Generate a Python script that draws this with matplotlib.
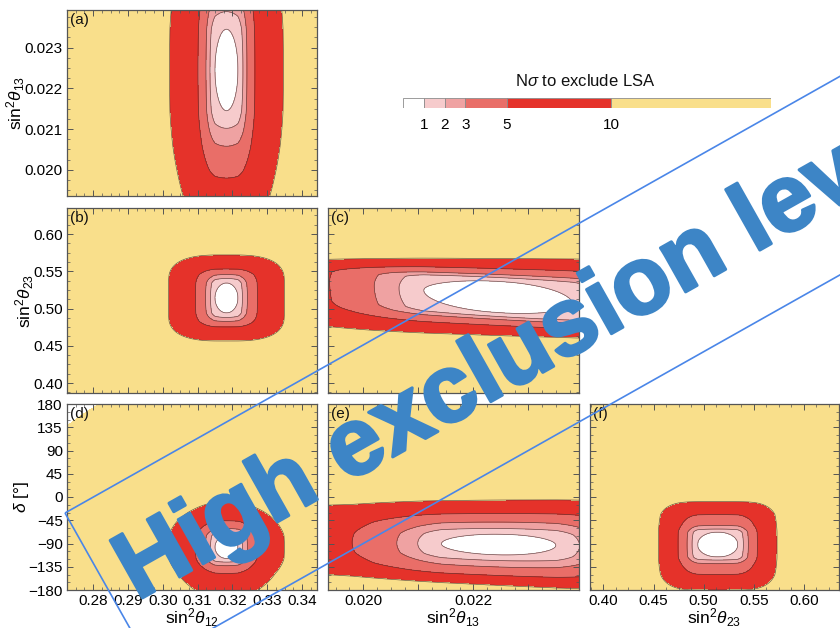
import numpy as np
import matplotlib
matplotlib.use("Agg")
import matplotlib.pyplot as plt
import matplotlib.patheffects as pe
from matplotlib.patches import Polygon
from matplotlib.ticker import MultipleLocator, FixedLocator, FixedFormatter, NullFormatter

plt.rcParams['font.family'] = ['Liberation Sans', 'DejaVu Sans']
plt.rcParams['mathtext.fontset'] = 'custom'
plt.rcParams['mathtext.rm'] = 'Liberation Sans'
plt.rcParams['mathtext.it'] = 'Liberation Sans:italic'
plt.rcParams['mathtext.bf'] = 'Liberation Sans:bold'

W, H, DPI = 840, 628, 100

# N-sigma bands and their fills
SIGMA_LEVELS = [1, 2, 3, 5, 10]
FILL_LEVELS = [0, 1, 2, 3, 5, 10, 40]
FILL_COLORS = ['#ffffff', '#f6cbcc', '#efa2a2', '#e96e68', '#e5322a', '#f9df8b']
LINE_COLOR = '#4a3434'
CBAR_MAX = 17.7

# Parameter ranges
S12_RANGE = (0.2725, 0.3443)
S13_RANGE = (0.01936, 0.02392)
S23_RANGE = (0.3866, 0.635)
DCP_RANGE = (-180.0, 180.0)

# Half-widths of each N-sigma contour (levels 1, 2, 3, 5, 10) per panel
# (a) sin^2 th12 vs sin^2 th13
A_CENTER = (0.3183, 0.02245)
A_RX = [0.00330, 0.00474, 0.00589, 0.00818, 0.01637]
A_RY_UP = [0.00100, 0.00143, 0.00187, 0.00265, 0.00700]
A_RY_DN = [0.00100, 0.00143, 0.00187, 0.00265, 0.00467]

# (b) sin^2 th12 vs sin^2 th23
B_CENTER = (0.3183, 0.5142)
B_RX = [0.00330, 0.00459, 0.00603, 0.00890, 0.01665]
B_RY = [0.0201, 0.0262, 0.0315, 0.0389, 0.0577]

# (c) sin^2 th13 vs sin^2 th23
C_CENTER = (0.02245, 0.5155)
C_RX = [0.00135, 0.00180, 0.00225, 0.00306, 0.01080]
C_RY = [0.0210, 0.0262, 0.0302, 0.0382, 0.0517]
C_TILT, C_GROW_UP, C_GROW_DN = -6.7, 122.0, -83.0

# (d) sin^2 th12 vs delta
D_CENTER = (0.3183, -97.0)
D_RX = [0.00330, 0.00459, 0.00603, 0.00890, 0.01665]
D_RY_UP = [22, 29, 36, 51, 87]
D_RY_DN = [22, 29, 36, 51, 100]

# (e) sin^2 th13 vs delta
E_CENTER = (0.02246, -92.0)
E_RX = [0.00104, 0.00147, 0.00185, 0.00266, 0.00800]
E_RY_UP = [20, 31, 43.5, 60, 86]
E_RY_DN = [20, 31, 43.5, 60, 79]
E_TILT, E_GROW_UP, E_GROW_DN = -1460.0, 25.0, 45.0

# (f) sin^2 th23 vs delta
F_CENTER = (0.514, -92.0)
F_RX = [0.0200, 0.0256, 0.0306, 0.0396, 0.0591]
F_RY_UP = [24, 30, 37, 58, 83]
F_RY_DN = [24, 30, 37, 58, 88]


def nsigma(X, Y, center, rx, ry_up, ry_dn, q_in=2.0, q_out=2.0,
           tilt=0.0, grow_up=0.0, grow_dn=0.0):
    """Significance surface built from per-level half-widths along each axis.

    q_in / q_out set how rounded (2) or boxy (>2) the inner and outer bands are.
    """
    x0, y0 = center
    lv = [0] + SIGMA_LEVELS + [40]
    dx = X - x0
    dy = Y - (y0 + tilt * dx)
    up = dy >= 0
    scale = np.where(up, 1 + grow_up * dx, 1 + grow_dn * dx)
    ady = np.abs(dy) / np.clip(scale, 0.05, None)
    nx = np.interp(np.abs(dx), [0] + list(rx) + [4 * rx[-1]], lv)
    ny_u = np.interp(ady, [0] + list(ry_up) + [4 * ry_up[-1]], lv)
    ny_d = np.interp(ady, [0] + list(ry_dn) + [4 * ry_dn[-1]], lv)
    ny = np.where(up, ny_u, ny_d)
    n2 = np.hypot(nx, ny)
    q = np.interp(n2, [0, 3, 10], [q_in, q_in, q_out])
    return (nx ** q + ny ** q) ** (1.0 / q)


def grid(xr, yr, n=420):
    x = np.linspace(xr[0], xr[1], n)
    y = np.linspace(yr[0], yr[1], n)
    return np.meshgrid(x, y)


fig = plt.figure(figsize=(W / DPI, H / DPI), dpi=DPI)
fig.patch.set_facecolor('white')


def px_axes(x0, y0, x1, y1):
    return fig.add_axes([x0 / W, 1 - y1 / H, (x1 - x0) / W, (y1 - y0) / H])


COLS = [(67, 317), (328, 579), (590, 839)]
ROWS = [(10, 196), (208, 393), (404, 590)]

TICK_FS = 11
LABEL_FS = 12.5


def style(ax, letter):
    for s in ax.spines.values():
        s.set_color('#555555')
        s.set_linewidth(0.9)
    ax.tick_params(which='both', direction='in', top=True, right=True,
                   color='#555555', labelsize=TICK_FS, pad=3)
    ax.tick_params(which='major', length=4, width=0.7)
    ax.tick_params(which='minor', length=2, width=0.5)
    ax.text(0.012, 0.985, f'({letter})', transform=ax.transAxes, ha='left', va='top',
            fontsize=11, color='#111111')


def s12_axis(axis, labels):
    axis.set_major_locator(MultipleLocator(0.01))
    axis.set_minor_locator(MultipleLocator(0.0025))
    if labels:
        axis.set_major_formatter(plt.FuncFormatter(lambda v, p: f'{v:.2f}'))
    else:
        axis.set_major_formatter(NullFormatter())


def s13_axis(axis, labels, every_other=False):
    axis.set_major_locator(FixedLocator([0.020, 0.021, 0.022, 0.023]))
    axis.set_minor_locator(MultipleLocator(0.00025))
    if labels:
        if every_other:
            axis.set_major_formatter(FixedFormatter(['0.020', '', '0.022', '']))
        else:
            axis.set_major_formatter(plt.FuncFormatter(lambda v, p: f'{v:.3f}'))
    else:
        axis.set_major_formatter(NullFormatter())


def s23_axis(axis, labels):
    axis.set_major_locator(MultipleLocator(0.05))
    axis.set_minor_locator(MultipleLocator(0.0125))
    if labels:
        axis.set_major_formatter(plt.FuncFormatter(lambda v, p: f'{v:.2f}'))
    else:
        axis.set_major_formatter(NullFormatter())


def dcp_axis(axis, labels):
    axis.set_major_locator(MultipleLocator(45))
    axis.set_minor_locator(MultipleLocator(15))
    if labels:
        axis.set_major_formatter(plt.FuncFormatter(
            lambda v, p: (f'{int(round(v))}' if v >= 0 else f'\u2212{int(round(-v))}')))
    else:
        axis.set_major_formatter(NullFormatter())


def draw(ax, X, Y, Z):
    ax.contourf(X, Y, Z, levels=FILL_LEVELS, colors=FILL_COLORS)
    ax.contour(X, Y, Z, levels=SIGMA_LEVELS, colors=LINE_COLOR, linewidths=0.5, alpha=0.8)


# (a)
ax = px_axes(COLS[0][0], ROWS[0][0], COLS[0][1], ROWS[0][1])
X, Y = grid(S12_RANGE, S13_RANGE)
draw(ax, X, Y, nsigma(X, Y, A_CENTER, A_RX, A_RY_UP, A_RY_DN, q_out=1.85))
ax.set_xlim(S12_RANGE); ax.set_ylim(S13_RANGE)
s12_axis(ax.xaxis, False); s13_axis(ax.yaxis, True)
ax.set_ylabel(r'sin$^2\theta_{13}$', fontsize=LABEL_FS, labelpad=-2)
style(ax, 'a')

# (b)
ax = px_axes(COLS[0][0], ROWS[1][0], COLS[0][1], ROWS[1][1])
X, Y = grid(S12_RANGE, S23_RANGE)
draw(ax, X, Y, nsigma(X, Y, B_CENTER, B_RX, B_RY, B_RY, q_in=2.0, q_out=2.8))
ax.set_xlim(S12_RANGE); ax.set_ylim(S23_RANGE)
s12_axis(ax.xaxis, False); s23_axis(ax.yaxis, True)
ax.set_ylabel(r'sin$^2\theta_{23}$', fontsize=LABEL_FS, labelpad=-2)
style(ax, 'b')

# (c)
ax = px_axes(COLS[1][0], ROWS[1][0], COLS[1][1], ROWS[1][1])
X, Y = grid(S13_RANGE, S23_RANGE)
draw(ax, X, Y, nsigma(X, Y, C_CENTER, C_RX, C_RY, C_RY,
                      tilt=C_TILT, grow_up=C_GROW_UP, grow_dn=C_GROW_DN))
ax.set_xlim(S13_RANGE); ax.set_ylim(S23_RANGE)
s13_axis(ax.xaxis, False); s23_axis(ax.yaxis, False)
style(ax, 'c')

# (d)
ax = px_axes(COLS[0][0], ROWS[2][0], COLS[0][1], ROWS[2][1])
X, Y = grid(S12_RANGE, DCP_RANGE)
draw(ax, X, Y, nsigma(X, Y, D_CENTER, D_RX, D_RY_UP, D_RY_DN, q_out=1.8))
ax.set_xlim(S12_RANGE); ax.set_ylim(DCP_RANGE)
s12_axis(ax.xaxis, True); dcp_axis(ax.yaxis, True)
ax.set_xlabel(r'sin$^2\theta_{12}$', fontsize=LABEL_FS, labelpad=-1)
ax.set_ylabel(r'$\delta$ [°]', fontsize=LABEL_FS, labelpad=-2)
style(ax, 'd')

# (e)
ax = px_axes(COLS[1][0], ROWS[2][0], COLS[1][1], ROWS[2][1])
X, Y = grid(S13_RANGE, DCP_RANGE)
draw(ax, X, Y, nsigma(X, Y, E_CENTER, E_RX, E_RY_UP, E_RY_DN,
                      tilt=E_TILT, grow_up=E_GROW_UP, grow_dn=E_GROW_DN))
ax.set_xlim(S13_RANGE); ax.set_ylim(DCP_RANGE)
s13_axis(ax.xaxis, True, every_other=True); dcp_axis(ax.yaxis, False)
ax.set_xlabel(r'sin$^2\theta_{13}$', fontsize=LABEL_FS, labelpad=-1)
style(ax, 'e')

# (f)
ax = px_axes(COLS[2][0], ROWS[2][0], COLS[2][1], ROWS[2][1])
X, Y = grid(S23_RANGE, DCP_RANGE)
draw(ax, X, Y, nsigma(X, Y, F_CENTER, F_RX, F_RY_UP, F_RY_DN, q_in=2.1, q_out=2.8))
ax.set_xlim(S23_RANGE); ax.set_ylim(DCP_RANGE)
s23_axis(ax.xaxis, True); dcp_axis(ax.yaxis, False)
ax.set_xlabel(r'sin$^2\theta_{23}$', fontsize=LABEL_FS, labelpad=-1)
style(ax, 'f')

# Legend bar for the N-sigma bands
cax = px_axes(403, 98, 771, 108)
edges = [0] + SIGMA_LEVELS + [CBAR_MAX]
lefts = edges[:-1]
widths = np.diff(edges)
cax.barh(0.5, widths, left=lefts, height=1.0, color=FILL_COLORS,
         edgecolor='#8c8c8c', linewidth=0.6)
cax.set_xlim(0, CBAR_MAX)
cax.set_ylim(0, 1)
for s in cax.spines.values():
    s.set_visible(False)
cax.set_yticks([])
cax.set_xticks(SIGMA_LEVELS)
cax.set_xticklabels([str(v) for v in SIGMA_LEVELS])
cax.tick_params(axis='x', length=0, pad=7, labelsize=11)
fig.text(585 / W, 1 - 81 / H, r'N$\sigma$ to exclude LSA', ha='center', va='center',
         fontsize=12, color='#111111')

# Stamp across the grid
ang = 29.4
stamp_color = '#3d85c6'
t = np.deg2rad(ang)
u = np.array([np.cos(t), -np.sin(t)])
v = np.array([np.sin(t), np.cos(t)])
p0 = np.array([65.0, 513.0])
box_len, box_h = 1400.0, 173.0
corners = [p0, p0 + box_len * u, p0 + box_len * u + box_h * v, p0 + box_h * v]
corners = [(c[0] / W, 1 - c[1] / H) for c in corners]
fig.add_artist(Polygon(corners, closed=True, fill=False, edgecolor='#4a86e8',
                       linewidth=1.2, transform=fig.transFigure, zorder=10))
start = (137.0, 601.0)
fig.text(start[0] / W, 1 - start[1] / H, 'High exclusion level', rotation=ang,
         rotation_mode='anchor', ha='left', va='baseline', fontsize=69,
         fontweight='bold', color=stamp_color, zorder=11,
         path_effects=[pe.withStroke(linewidth=2.2, foreground=stamp_color)])

fig.savefig('out.png', dpi=DPI)
